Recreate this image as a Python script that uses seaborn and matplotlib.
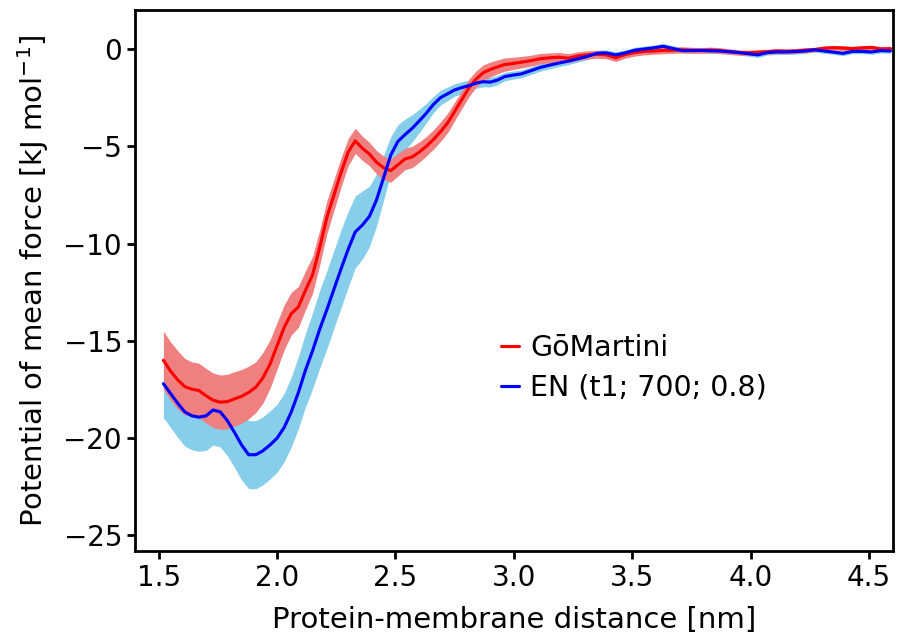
import numpy as np
import pandas as pd
import matplotlib
matplotlib.use("Agg")
import matplotlib.pyplot as plt
import seaborn as sns

# ── DATA ─────────────────────────────────────
distance = [1.52, 1.55, 1.58, 1.61, 1.64, 1.67, 1.70, 1.73, 1.76, 1.79,
            1.82, 1.85, 1.88, 1.91, 1.94, 1.97, 2.00, 2.03, 2.06, 2.09,
            2.12, 2.15, 2.18, 2.21, 2.24, 2.27, 2.30, 2.33, 2.36, 2.39,
            2.42, 2.45, 2.48, 2.51, 2.54, 2.57, 2.60, 2.63, 2.66, 2.69,
            2.72, 2.75, 2.78, 2.81, 2.84, 2.87, 2.90, 2.93, 2.96, 2.99,
            3.03, 3.07, 3.11, 3.15, 3.19, 3.23, 3.27, 3.31, 3.35, 3.39,
            3.43, 3.47, 3.51, 3.55, 3.59, 3.63, 3.67, 3.71, 3.75, 3.79,
            3.83, 3.87, 3.91, 3.95, 3.99, 4.03, 4.07, 4.11, 4.15, 4.19,
            4.23, 4.27, 4.31, 4.35, 4.39, 4.43, 4.47, 4.51, 4.55, 4.59]

# GoMartini PMF and its error band
go_pmf = [-16.0, -16.55, -17.0, -17.35, -17.48, -17.55, -17.82, -18.05, -18.15, -18.12,
          -17.98, -17.85, -17.65, -17.38, -16.9, -16.2, -15.25, -14.3, -13.6, -13.25,
          -12.4, -11.6, -10.2, -8.66, -7.5, -6.35, -5.3, -4.72, -5.1, -5.4,
          -5.82, -6.1, -6.25, -5.95, -5.65, -5.55, -5.3, -5.0, -4.65, -4.25,
          -3.8, -3.2, -2.6, -2.0, -1.55, -1.22, -1.05, -0.92, -0.8, -0.75,
          -0.68, -0.6, -0.5, -0.45, -0.42, -0.47, -0.36, -0.3, -0.27, -0.3,
          -0.45, -0.28, -0.18, -0.12, -0.1, -0.07, -0.06, -0.04, -0.06, -0.07,
          -0.05, -0.08, -0.13, -0.18, -0.2, -0.17, -0.14, -0.1, -0.12, -0.1,
          -0.06, -0.03, 0.04, 0.07, 0.05, 0.02, 0.06, 0.08, 0.0, 0.02]
go_err = [1.5, 1.5, 1.5, 1.45, 1.4, 1.4, 1.4, 1.4, 1.4, 1.4,
          1.4, 1.38, 1.35, 1.3, 1.3, 1.25, 1.2, 1.15, 1.1, 1.05,
          1.0, 0.95, 0.9, 0.85, 0.8, 0.75, 0.7, 0.65, 0.62, 0.6,
          0.6, 0.6, 0.6, 0.58, 0.55, 0.55, 0.52, 0.5, 0.5, 0.5,
          0.5, 0.48, 0.46, 0.45, 0.42, 0.4, 0.38, 0.36, 0.34, 0.32,
          0.3, 0.28, 0.27, 0.25, 0.24, 0.23, 0.22, 0.21, 0.2, 0.2,
          0.19, 0.19, 0.18, 0.18, 0.17, 0.17, 0.16, 0.16, 0.15, 0.15,
          0.15, 0.15, 0.14, 0.14, 0.14, 0.14, 0.13, 0.13, 0.13, 0.13,
          0.13, 0.12, 0.12, 0.12, 0.12, 0.12, 0.12, 0.12, 0.12, 0.12]

# EN (t1; 700; 0.8) PMF and its error band
en_pmf = [-17.2, -17.7, -18.2, -18.65, -18.85, -18.92, -18.85, -18.55, -18.65, -19.1,
          -19.7, -20.35, -20.85, -20.85, -20.65, -20.35, -20.0, -19.45, -18.65, -17.65,
          -16.5, -15.5, -14.4, -13.4, -12.35, -11.3, -10.3, -9.4, -9.05, -8.6,
          -7.75, -6.6, -5.45, -4.75, -4.4, -4.08, -3.7, -3.3, -2.85, -2.5,
          -2.3, -2.1, -1.98, -1.88, -1.75, -1.68, -1.7, -1.6, -1.42, -1.35,
          -1.28, -1.12, -0.95, -0.83, -0.72, -0.62, -0.5, -0.38, -0.22, -0.2,
          -0.3, -0.2, -0.06, 0.0, 0.06, 0.14, 0.03, -0.08, -0.08, -0.07,
          -0.09, -0.1, -0.14, -0.18, -0.24, -0.3, -0.18, -0.15, -0.15, -0.13,
          -0.1, -0.04, -0.1, -0.16, -0.22, -0.12, -0.12, -0.15, -0.08, -0.1]
en_err = [1.75, 1.75, 1.75, 1.75, 1.75, 1.75, 1.78, 1.8, 1.8, 1.8,
          1.8, 1.8, 1.75, 1.75, 1.75, 1.75, 1.75, 1.75, 1.8, 1.85,
          1.9, 1.95, 2.0, 2.0, 2.0, 2.0, 1.95, 1.85, 1.75, 1.55,
          1.35, 1.15, 0.95, 0.85, 0.8, 0.7, 0.6, 0.5, 0.42, 0.38,
          0.35, 0.32, 0.3, 0.28, 0.27, 0.26, 0.25, 0.24, 0.22, 0.21,
          0.2, 0.2, 0.19, 0.19, 0.18, 0.18, 0.17, 0.17, 0.16, 0.16,
          0.16, 0.15, 0.15, 0.15, 0.15, 0.15, 0.15, 0.14, 0.14, 0.14,
          0.14, 0.14, 0.14, 0.13, 0.13, 0.13, 0.13, 0.13, 0.13, 0.13,
          0.13, 0.12, 0.12, 0.12, 0.12, 0.12, 0.12, 0.12, 0.12, 0.12]

df = pd.DataFrame({"distance": distance,
                   "go": go_pmf, "go_err": go_err,
                   "en": en_pmf, "en_err": en_err})

# ── STYLE ────────────────────────────────────
sns.set_theme(style="ticks", context="talk", rc={
    "text.color": "black", "axes.labelcolor": "black",
    "xtick.color": "black", "ytick.color": "black",
    "axes.edgecolor": "black", "axes.linewidth": 2.0,
    "xtick.major.size": 5.8, "ytick.major.size": 5.8,
    "xtick.major.width": 2.0, "ytick.major.width": 2.0,
    "xtick.labelsize": 20, "ytick.labelsize": 20,
    "axes.labelsize": 21, "legend.fontsize": 20.5,
})
plt.rcParams['font.family'] = ['DejaVu Sans']

fig, ax = plt.subplots(figsize=(9, 6.33), dpi=100)
fig.subplots_adjust(left=0.150, right=0.992, bottom=0.1295, top=0.984)

# error bands first, lines on top
ax.fill_between(df["distance"], df["en"] - df["en_err"], df["en"] + df["en_err"],
                color="skyblue", linewidth=0)
ax.fill_between(df["distance"], df["go"] - df["go_err"], df["go"] + df["go_err"],
                color="lightcoral", linewidth=0)
sns.lineplot(data=df, x="distance", y="go", color="red", label="GōMartini", ax=ax)
sns.lineplot(data=df, x="distance", y="en", color="blue", label="EN (t1; 700; 0.8)", ax=ax)

ax.set_xlim(1.4, 4.6)
ax.set_ylim(-25.8, 2)
ax.set_xticks([1.5, 2.0, 2.5, 3.0, 3.5, 4.0, 4.5])
ax.set_yticks([0, -5, -10, -15, -20, -25])
ax.set_xlabel("Protein-membrane distance [nm]", labelpad=10)
ax.set_ylabel("Potential of mean force [kJ mol$^{-1}$]", labelpad=9)

ax.legend(loc="center left", bbox_to_anchor=(0.449, 0.339), frameon=False,
          handlelength=0.62, handletextpad=0.4, labelspacing=0.43)

plt.savefig("out.png", dpi=100)
